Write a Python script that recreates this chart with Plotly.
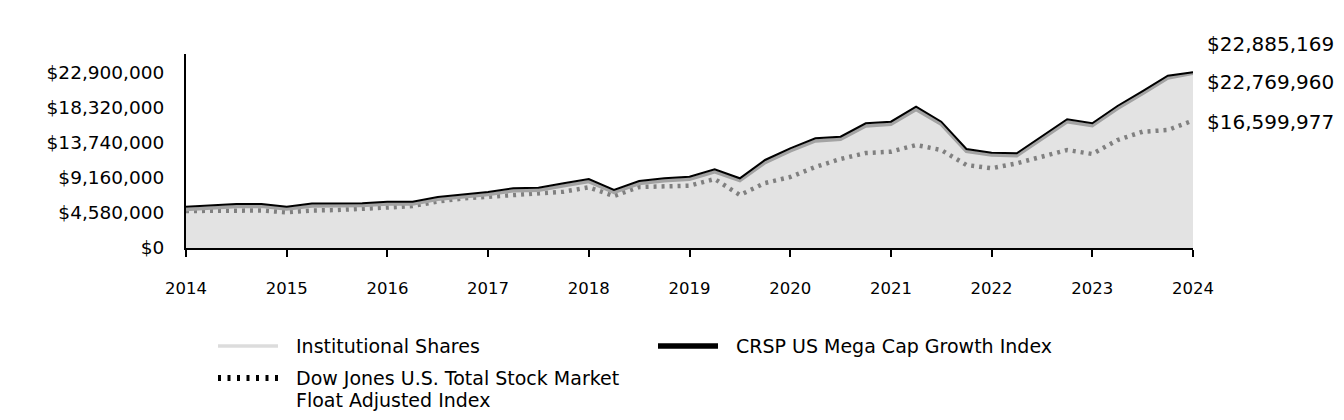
import plotly.graph_objects as go

# ---------------- data (values in US$ millions, quarterly 2014..2024) ----------------
quarters = [2014 + q / 4 for q in range(41)]

crsp_mega_cap_growth = [
    5.38, 5.53, 5.73, 5.73, 5.38, 5.79, 5.82, 5.82, 6.03, 6.03,
    6.64, 6.97, 7.29, 7.77, 7.85, 8.42, 8.98, 7.55, 8.72, 9.08,
    9.28, 10.25, 9.08, 11.46, 12.98, 14.28, 14.49, 16.24, 16.45, 18.40,
    16.45, 12.89, 12.41, 12.33, 14.58, 16.76, 16.24, 18.49, 20.44, 22.43,
    22.885169,
]
institutional_shares = [
    5.00, 5.20, 5.40, 5.42, 5.08, 5.48, 5.50, 5.52, 5.72, 5.73,
    6.33, 6.66, 6.98, 7.45, 7.53, 8.10, 8.65, 7.24, 8.40, 8.76,
    8.96, 9.92, 8.77, 11.12, 12.64, 13.94, 14.15, 15.90, 16.11, 18.05,
    16.12, 12.58, 12.10, 12.02, 14.26, 16.44, 15.93, 18.17, 20.12, 22.12,
    22.769960,
]
dow_jones_total_market = [
    4.82, 4.88, 4.95, 4.88, 4.65, 4.88, 4.95, 5.04, 5.27, 5.47,
    6.05, 6.45, 6.68, 6.90, 7.12, 7.33, 7.90, 6.77, 7.94, 8.07,
    8.11, 8.98, 6.90, 8.46, 9.24, 10.55, 11.59, 12.37, 12.54, 13.41,
    12.76, 10.81, 10.38, 11.03, 11.89, 12.76, 12.24, 14.06, 15.14, 15.36,
    16.599977,
]

series_names = [
    "Institutional Shares",
    "CRSP US Mega Cap Growth Index",
    "Dow Jones U.S. Total Stock Market Float Adjusted Index",
]
legend_lines = [
    ["Institutional Shares"],
    ["CRSP US Mega Cap Growth Index"],
    ["Dow Jones U.S. Total Stock Market", "Float Adjusted Index"],
]
end_labels = ["$22,885,169", "$22,769,960", "$16,599,977"]

year_ticks = list(range(2014, 2025))
y_tick_values = [0, 4.58, 9.16, 13.74, 18.32, 22.90]
y_tick_labels = ["$0", "$4,580,000", "$9,160,000", "$13,740,000", "$18,320,000", "$22,900,000"]

M = 1_000_000
inst = [v * M for v in institutional_shares]
crsp = [v * M for v in crsp_mega_cap_growth]
dj = [v * M for v in dow_jones_total_market]

# ---------------- geometry (page pixels; page body has an 8px margin) ----------------
OFF = 8
W, H = 1344, 420
PLOT_L, PLOT_R, PLOT_T, PLOT_B = 186, 1193, 54, 248
L = PLOT_L - OFF
R = W - (PLOT_R - OFF)
T = PLOT_T - OFF
B = H - (PLOT_B - OFF)
PW, PH = PLOT_R - PLOT_L, PLOT_B - PLOT_T
Y_MAX = 25.26 * M


def px_x(x):
    return (x - PLOT_L) / PW


def px_y(y):
    return (PLOT_B - y) / PH


FONT = "DejaVu Sans, Liberation Sans, Arial, sans-serif"

fig = go.Figure()

# area fill of institutional shares
fig.add_trace(go.Scatter(
    x=quarters, y=inst, mode="lines", fill="tozeroy",
    fillcolor="#e3e3e3", line=dict(width=0, color="#e3e3e3"),
    showlegend=False, hoverinfo="skip",
))
# Dow Jones dotted line
fig.add_trace(go.Scatter(
    x=quarters, y=dj, mode="lines", name=series_names[2],
    line=dict(color="#808080", width=4.5, dash="3px,5px"),
    showlegend=False,
))
# Institutional line
fig.add_trace(go.Scatter(
    x=quarters, y=inst, mode="lines", name=series_names[0],
    line=dict(color="#a3a3a3", width=3.5),
    showlegend=False,
))
# CRSP line
fig.add_trace(go.Scatter(
    x=quarters, y=crsp, mode="lines", name=series_names[1],
    line=dict(color="#000000", width=2),
    showlegend=False,
))

annotations = []
shapes = []

# end value labels
for label, ypix in zip(end_labels, [44, 82, 122]):
    annotations.append(dict(
        text=label, xref="paper", yref="paper", x=px_x(1205), y=px_y(ypix),
        xanchor="left", yanchor="middle", showarrow=False,
        font=dict(family=FONT, size=20, color="#000000"),
    ))

# manual legend
legend_styles = [
    (218, 346, dict(color="#dcdcdc", width=3.5)),
    (658, 346, dict(color="#000000", width=5.5)),
    (218, 378, dict(color="#000000", width=6, dash="3px,6.5px")),
]
for lines, (x0, ycen, ln) in zip(legend_lines, legend_styles):
    shapes.append(dict(
        type="line", xref="paper", yref="paper",
        x0=px_x(x0), x1=px_x(x0 + 60), y0=px_y(ycen), y1=px_y(ycen), line=ln,
    ))
    for k, txt in enumerate(lines):
        annotations.append(dict(
            text=txt, xref="paper", yref="paper", x=px_x(x0 + 76),
            y=px_y(ycen + 22 * k), xanchor="left", yanchor="middle", align="left",
            showarrow=False, font=dict(family=FONT, size=19, color="#000000"),
        ))

fig.update_layout(
    width=W, height=H,
    margin=dict(l=L, r=R, t=T, b=B, pad=0),
    paper_bgcolor="white", plot_bgcolor="white",
    font=dict(family=FONT, size=17, color="#000000"),
    showlegend=False,
    annotations=annotations, shapes=shapes,
    xaxis=dict(
        range=[2014, 2024], tickmode="array", tickvals=year_ticks,
        ticktext=[str(y) for y in year_ticks],
        showgrid=False, zeroline=False, showline=True, linecolor="#000000", linewidth=2,
        ticks="outside", ticklen=7, tickwidth=2, tickcolor="#000000",
        ticklabelstandoff=17, tickfont=dict(family=FONT, size=16.5),
    ),
    yaxis=dict(
        range=[0, Y_MAX], tickmode="array",
        tickvals=[v * M for v in y_tick_values], ticktext=y_tick_labels,
        showgrid=False, zeroline=False, showline=True, linecolor="#000000", linewidth=2,
        ticks="", ticklabelstandoff=16, tickfont=dict(family=FONT, size=18.5),
    ),
)

fig.write_html("out.html")
